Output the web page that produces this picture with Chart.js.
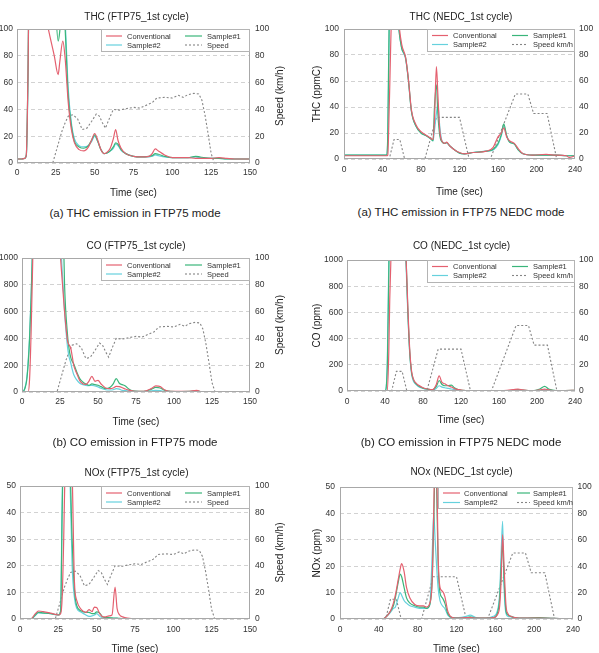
<!DOCTYPE html>
<html><head><meta charset="utf-8">
<script src="https://cdn.jsdelivr.net/npm/chart.js@4"></script>
<style>
html,body{margin:0;padding:0;width:599px;height:653px;overflow:hidden;background:#fff;position:relative;font-family:"Liberation Sans",Arial,sans-serif}
canvas{position:absolute}
.cap{position:absolute;font-size:11.5px;line-height:14px;color:#222;white-space:nowrap;transform:translate(-50%,-50%)}
</style></head><body>
<canvas id="c1"></canvas><canvas id="c2"></canvas><canvas id="c3"></canvas>
<canvas id="c4"></canvas><canvas id="c5"></canvas><canvas id="c6"></canvas>
<div class="cap" style="left:135px;top:212.5px">(a) THC emission in FTP75 mode</div>
<div class="cap" style="left:461px;top:211.5px">(a) THC emission in FTP75 NEDC mode</div>
<div class="cap" style="left:135px;top:441.5px">(b) CO emission in FTP75 mode</div>
<div class="cap" style="left:461px;top:441.5px">(b) CO emission in FTP75 NEDC mode</div>
<script>
// ---------------- DATA ----------------
const seriesLabels = ['Conventional', 'Sample#1', 'Sample#2'];

// FTP75 speed profile (km/h)
const ftpSpeedT = [0, 23, 26, 29, 31, 33, 36, 39, 42, 45, 48, 51, 53, 55, 57, 59, 62, 66, 70, 75, 79, 84, 87, 90, 95, 100, 104, 107, 110, 114, 117, 119, 121, 123, 125, 127, 150];
const ftpSpeed  = [0, 0, 12, 24, 30, 35, 36, 33, 25, 26, 31, 36.5, 35, 30, 26, 32, 40, 39.5, 40.5, 41.5, 41, 43.5, 45, 48.5, 49, 48.5, 50.5, 49, 51, 52, 51.5, 47, 36, 22, 7, 0, 0];

// NEDC speed profile (km/h)
const nedcSpeedT = [0, 47, 52, 58, 63, 84, 96, 120, 130, 152, 178, 191, 197, 211, 221, 240];
const nedcSpeed  = [0, 0, 15, 15, 0, 0, 32, 32, 0, 0, 50, 50, 35, 35, 0, 0];

// THC FTP75
const thcFtpT    = [0, 3, 5, 6, 7, 8, 12, 20, 24, 26.5, 27.5, 29.5, 31, 33, 35, 37, 40, 43, 46, 48, 50, 52, 54, 56, 58, 60, 62, 63.5, 65, 67, 70, 75, 80, 85, 87, 89, 91, 95, 100, 105, 110, 115, 118, 125, 130, 135, 140, 150];
const thcFtpConv = [3, 3, 3.5, 6, 60, 150, 150, 101, 80, 66, 75, 91, 78, 45, 25, 15, 10, 9, 12, 17, 22, 17, 10, 7, 8, 11, 18, 25, 17, 11, 7, 5, 4.5, 5, 7, 10.5, 9, 6, 4, 4, 4, 3.5, 3.5, 3.5, 4, 3.5, 3, 3];
const thcFtpS1   = [3, 3, 3.5, 6, 60, 150, 150, 150, 130, 91, 98, 130, 100, 50, 28, 16, 12, 11, 13, 17, 21, 16, 10, 7, 7.5, 9, 12, 15, 14, 10, 7, 5, 4.5, 5, 5.5, 7, 6.5, 5, 4, 4, 4, 5, 4.5, 3.5, 3.5, 3, 3, 3];
const thcFtpS2   = [3, 3, 3.5, 5.5, 55, 150, 150, 150, 140, 120, 115, 120, 105, 55, 30, 18, 13, 12, 13, 16, 20, 16, 10, 7, 7.5, 9, 11, 14, 13, 9.5, 7, 5, 4.5, 4.5, 5, 6, 5.5, 4.5, 4, 4, 4, 4.5, 4, 3.5, 3.5, 3, 3, 3];

// THC NEDC
const thcNedcT    = [0, 20, 44, 45.5, 47, 50, 55, 57, 60, 64, 67, 70, 75, 80, 85, 90, 92.5, 94, 96, 97.5, 99.5, 102, 105, 106.5, 110, 115, 120, 125, 134, 148, 155, 160, 163.5, 166, 169, 172, 177, 181, 186, 196, 210, 220, 231, 234, 240];
const thcNedcConv = [2.5, 2.5, 2.5, 3, 40, 120, 130, 105, 88, 78, 61, 38, 26, 21, 18.5, 16, 15, 30, 71, 50, 22, 13.5, 12, 13, 10, 7, 5, 4, 5, 6, 9, 17, 20, 24, 17, 14, 12, 8, 4, 3, 3.5, 3, 2.5, 1.2, 2.5];
const thcNedcS1   = [3, 3, 3, 20, 110, 130, 120, 100, 85, 78, 60, 37, 25, 20, 18, 15.5, 14, 40, 57, 35, 18, 13, 12, 12.5, 10, 7, 4.5, 4, 5, 6, 7.5, 12, 19, 27, 18, 13, 11.5, 7, 4, 3, 3, 3, 2.5, 2.5, 2.5];
const thcNedcS2   = [3, 3, 3, 15, 100, 130, 120, 100, 85, 77, 60, 37, 25, 20, 18, 15.5, 14, 22, 35, 42, 25, 13.5, 12, 12.5, 10, 7, 4.5, 4, 5, 6, 7, 11, 18, 25, 18, 13, 11.5, 7, 4, 3, 3, 3, 2.5, 2.5, 2.5];

// CO FTP75
const coFtpT    = [0, 1, 2, 3, 4, 5, 6, 7, 8, 20, 25, 26, 27, 28, 30, 31, 32, 33, 34, 36, 38, 40, 42, 44, 46, 48, 50, 52, 55, 58, 60, 62, 64, 66, 68, 70, 73, 76, 80, 85, 88, 91, 94, 98, 105, 110, 115, 118, 125, 135, 150];
const coFtpConv = [0, 0, 0, 0, 0, 100, 450, 950, 1500, 1500, 1050, 900, 750, 600, 380, 350, 330, 270, 200, 140, 85, 62, 57, 80, 117, 80, 87, 60, 30, 25, 30, 42, 40, 32, 22, 15, 7, 5, 5, 25, 45, 40, 15, 5, 4, 5, 12, 3, 2, 2, 2];
const coFtpS1   = [0, 5, 30, 80, 200, 400, 700, 1100, 1500, 1500, 1500, 1500, 1300, 800, 420, 320, 260, 230, 210, 150, 100, 75, 60, 50, 60, 55, 50, 40, 25, 35, 60, 100, 65, 55, 45, 25, 8, 5, 5, 20, 35, 30, 12, 5, 3, 4, 10, 2, 1, 0, 0];
const coFtpS2   = [0, 8, 35, 90, 220, 420, 720, 1100, 1500, 1500, 1300, 1000, 800, 600, 330, 260, 220, 170, 130, 90, 65, 55, 50, 48, 50, 45, 38, 28, 17, 15, 17, 25, 22, 12, 10, 8, 5, 4, 3, 8, 12, 10, 5, 3, 2, 2, 4, 1, 0, 0, 0];

// CO NEDC
const coNedcT    = [0, 20, 40, 42.5, 44, 45, 46, 48, 55, 60, 62, 64, 66, 68, 70, 72, 75, 80, 85, 90, 94, 97, 100, 103, 107, 110, 113, 117, 122, 130, 140, 160, 175, 180, 185, 195, 203, 208, 213, 220, 230, 240];
const coNedcConv = [0, 0, 0, 0, 300, 700, 950, 1500, 1500, 1300, 1050, 650, 320, 150, 90, 65, 45, 25, 15, 10, 50, 115, 65, 55, 38, 30, 18, 10, 5, 2, 1, 1, 10, 15, 8, 1, 8, 15, 8, 3, 3, 5];
const coNedcS1   = [0, 0, 0, 200, 900, 1300, 1500, 1500, 1500, 1300, 1050, 620, 300, 140, 85, 60, 40, 22, 14, 9, 35, 80, 50, 40, 42, 45, 25, 10, 5, 2, 1, 1, 5, 10, 6, 2, 15, 35, 12, 3, 3, 5];
const coNedcS2   = [0, 0, 0, 250, 1000, 1400, 1500, 1500, 1500, 1300, 1000, 600, 290, 130, 75, 55, 35, 20, 12, 8, 20, 40, 30, 25, 20, 15, 10, 5, 3, 1, 1, 1, 3, 5, 3, 1, 5, 10, 5, 2, 2, 3];

// NOx FTP75
const noxFtpT    = [0, 7, 10, 12, 15, 20, 25, 26.5, 27.5, 28.5, 29.5, 31, 32.5, 34, 35.5, 37, 40, 43, 45, 47, 48.5, 50, 52, 54, 56, 58, 60, 62, 63.3, 65, 67, 70, 75, 80, 100, 150];
const noxFtpConv = [0, 0, 2, 3, 2.8, 2.2, 1.5, 2, 8, 30, 60, 70, 70, 55, 14, 7, 3.5, 2.5, 3.5, 2.8, 4.5, 4.3, 2, 0.8, 0.8, 1.2, 1.5, 12, 4, 1.5, 0.8, 0.3, 0, 0, 0, 0];
const noxFtpS1   = [0, 0, 1.5, 2.5, 2.3, 2, 1.5, 3, 40, 70, 75, 70, 60, 30, 11, 5, 3, 2.5, 2.5, 2, 2, 2.7, 2.2, 0.8, 0.5, 0.5, 0.4, 0.3, 0.3, 0.2, 0.1, 0, 0, 0, 0, 0];
const noxFtpS2   = [0, 0, 1.3, 2.3, 2.2, 2, 1.5, 3, 45, 70, 70, 65, 55, 20, 8, 4, 2.5, 1.5, 1, 1.2, 1.5, 2, 1, 0.3, 0.2, 0.2, 0.2, 0.2, 0.2, 0.1, 0, 0, 0, 0, 0, 0];

// NOx NEDC
const noxNedcT    = [0, 44, 48, 52, 55, 57, 60, 62, 63.5, 66, 68.5, 72, 77, 82, 86, 89, 92.5, 95, 96.5, 98, 99.5, 101, 103, 105.5, 108, 111, 116, 122, 130, 134, 140, 150, 158, 162, 164.5, 166, 167.5, 169, 171, 173, 176, 180, 190, 205, 220, 240];
const noxNedcConv = [0, 0, 1, 3, 6, 9, 15, 19, 21, 18, 12, 8, 5.5, 5, 5, 4.5, 6, 15, 40, 65, 60, 25, 12, 10.5, 8.5, 3, 0.5, 0.3, 0.5, 0.5, 0.3, 0.3, 0.5, 1.5, 5, 15, 32, 20, 5, 2, 1, 0.5, 0.3, 0.3, 0.2, 0];
const noxNedcS1   = [0, 0, 1, 3, 5, 8, 14, 17, 16, 12, 8, 6, 5, 4.5, 4.5, 4, 5.5, 15, 35, 58, 50, 22, 10, 8, 6, 2, 0.5, 0.3, 0.5, 0.8, 0.3, 0.3, 0.5, 2, 8, 20, 28.5, 15, 3, 1.5, 1, 0.5, 0.3, 0.5, 0.2, 0];
const noxNedcS2   = [0, 0, 1, 2.5, 4, 4.5, 8, 10, 9, 7, 6, 5, 4.5, 4, 4, 4, 5.5, 25, 40, 30, 20, 12, 7, 5, 4, 1.5, 0.5, 0.5, 1, 1.5, 0.5, 0.3, 1, 3, 10, 25, 37, 12, 2, 1, 0.8, 0.5, 0.3, 0.3, 0.2, 0];

// ticks
const ftpXTicks = {max: 150, step: 25};
const nedcXTicks = {max: 240, step: 40};
const speedTicks = {max: 100, step: 20};

// ---------------- STYLE / LAYOUT ----------------
const FONT = "'Liberation Sans', Arial, sans-serif";
Chart.defaults.font.family = FONT;
Chart.defaults.color = '#333';
const COLORS = ['#e4606f', '#3ab57a', '#66d1dd'];
const SPEED_COLOR = '#858585';
const plainNum = v => String(v);

const frameLegendPlugin = {
  id: 'frameLegend',
  afterDatasetsDraw(chart) {
    const {ctx, chartArea: a} = chart;
    ctx.save();
    ctx.strokeStyle = '#a8a8a8'; ctx.lineWidth = 1;
    ctx.strokeRect(Math.round(a.left) + 0.5, Math.round(a.top) + 0.5, Math.round(a.right - a.left) - 1, Math.round(a.bottom - a.top) - 1);
    ctx.restore();
  },
  afterDraw(chart, args, opts) {
    const {ctx, chartArea: a} = chart;
    const L = opts.legend;
    const x0 = Math.round(a.right - L.w), y0 = Math.round(a.top);
    ctx.save();
    ctx.fillStyle = 'rgba(255,255,255,0.95)';
    ctx.fillRect(x0, y0, L.w, L.h);
    ctx.strokeStyle = '#b4b4b4'; ctx.lineWidth = 1;
    ctx.strokeRect(x0 + 0.5, y0 + 0.5, L.w - 1, L.h - 1);
    ctx.font = '7.5px ' + FONT;
    ctx.textBaseline = 'middle'; ctx.textAlign = 'left';
    chart.data.datasets.forEach((ds, i) => {
      const c = L.cols[i % 2];
      const ly = y0 + L.row1 + Math.floor(i / 2) * L.rowGap;
      const lx = x0 + c.x;
      ctx.beginPath();
      ctx.setLineDash(ds.borderDash || []);
      ctx.strokeStyle = ds.borderColor; ctx.lineWidth = ds.borderWidth;
      ctx.moveTo(lx, ly); ctx.lineTo(lx + c.len, ly); ctx.stroke();
      ctx.setLineDash([]);
      ctx.fillStyle = '#333';
      ctx.fillText(ds.label, lx + c.len + c.gap, ly + 0.5);
    });
    if (opts.rightTitle) {
      const s = chart.scales.y1;
      ctx.translate(s.right - 7, (a.top + a.bottom) / 2);
      ctx.rotate(-Math.PI / 2);
      ctx.font = '10px ' + FONT;
      ctx.fillStyle = '#222';
      ctx.textAlign = 'center';
      ctx.fillText(opts.rightTitle, 0, 0);
    }
    ctx.restore();
  }
};

function pts(t, v) { return t.map((x, i) => ({x: x, y: v[i]})); }

function panel(id, g, c) {
  const cv = document.getElementById(id);
  cv.width = g.boxR - g.boxL; cv.height = g.bottom - g.top;
  cv.style.left = g.boxL + 'px'; cv.style.top = g.top + 'px';
  const ds = c.values.map((v, i) => ({
    label: seriesLabels[i], data: pts(c.t, v), yAxisID: 'y',
    borderColor: COLORS[i], borderWidth: 1.2, pointRadius: 0,
    cubicInterpolationMode: 'monotone', fill: false
  }));
  ds.push({
    label: c.speedLabel, data: pts(c.speedT, c.speed), yAxisID: 'y1',
    borderColor: SPEED_COLOR, borderWidth: 1.1, borderDash: [2, 2], pointRadius: 0,
    tension: 0, fill: false
  });
  new Chart(cv, {
    type: 'line',
    data: {datasets: ds},
    plugins: [frameLegendPlugin],
    options: {
      responsive: false, animation: false, events: [],
      layout: {padding: 0, autoPadding: false},
      plugins: {
        legend: {display: false}, tooltip: {enabled: false},
        title: {display: true, text: c.title, color: '#222',
          font: {size: 10, weight: 'normal'},
          padding: {top: g.titleY - g.top - 6, bottom: g.plotT - g.titleY - 6}},
        frameLegend: {legend: c.legend, rightTitle: c.rightTitle}
      },
      scales: {
        x: {type: 'linear', min: 0, max: c.x.max,
          ticks: {stepSize: c.x.step, font: {size: 8.5}, color: '#333', padding: c.padX, maxRotation: 0, callback: plainNum},
          grid: {display: false, drawTicks: false},
          border: {display: false},
          title: {display: true, text: 'Time (sec)', font: {size: 10}, color: '#222', padding: 0},
          afterFit: s => { s.height = g.bottom - g.plotB; }
        },
        y: {position: 'left', min: 0, max: c.y.max,
          ticks: {stepSize: c.y.step, font: {size: 8.5}, color: '#333', padding: c.padL, callback: plainNum},
          grid: {color: '#d2d2d2', lineWidth: 1, drawTicks: false},
          border: {display: false, dash: [4, 3]},
          title: {display: !!c.leftTitle, text: c.leftTitle || '', font: {size: 10}, color: '#222', padding: 0},
          afterFit: s => { s.width = g.plotL - g.boxL; }
        },
        y1: {position: 'right', min: 0, max: speedTicks.max,
          ticks: {stepSize: speedTicks.step, font: {size: 8.5}, color: '#333', padding: c.padR, callback: plainNum},
          grid: {display: false, drawTicks: false},
          border: {display: false},
          afterFit: s => { s.width = g.boxR - g.plotR; }
        }
      }
    }
  });
}

const legA = {w: 149, h: 23, row1: 7, rowGap: 9, cols: [{x: 5, len: 16, gap: 5}, {x: 84, len: 17, gap: 5}]};
const legB = {w: 148, h: 23, row1: 6.5, rowGap: 9, cols: [{x: 5, len: 16, gap: 5}, {x: 85, len: 16, gap: 5}]};
const legC = {w: 135, h: 22, row1: 6, rowGap: 9.5, cols: [{x: 5, len: 17, gap: 4}, {x: 79, len: 13, gap: 3}]};

panel('c1', {boxL: -14, boxR: 287, top: 0, bottom: 199, plotL: 17, plotR: 250, plotT: 29, plotB: 163, titleY: 17}, {
  title: 'THC (FTP75_1st cycle)', t: thcFtpT, values: [thcFtpConv, thcFtpS1, thcFtpS2],
  speedT: ftpSpeedT, speed: ftpSpeed, speedLabel: 'Speed', x: ftpXTicks, y: {max: 100, step: 20},
  rightTitle: 'Speed (km/h)', legend: legA, padL: 4, padR: 5, padX: 5
});
panel('c2', {boxL: 311, boxR: 611, top: 0, bottom: 198, plotL: 344, plotR: 575, plotT: 29, plotB: 159, titleY: 17}, {
  title: 'THC (NEDC_1st cycle)', t: thcNedcT, values: [thcNedcConv, thcNedcS1, thcNedcS2],
  speedT: nedcSpeedT, speed: nedcSpeed, speedLabel: 'Speed km/h', x: nedcXTicks, y: {max: 100, step: 20},
  leftTitle: 'THC (ppmC)', legend: legB, padL: 5, padR: 4, padX: 6
});
panel('c3', {boxL: -15, boxR: 287, top: 220, bottom: 428, plotL: 22, plotR: 250, plotT: 258, plotB: 392, titleY: 246}, {
  title: 'CO (FTP75_1st cycle)', t: coFtpT, values: [coFtpConv, coFtpS1, coFtpS2],
  speedT: ftpSpeedT, speed: ftpSpeed, speedLabel: 'Speed', x: ftpXTicks, y: {max: 1000, step: 200},
  rightTitle: 'Speed (km/h)', legend: legA, padL: 4, padR: 5, padX: 5
});
panel('c4', {boxL: 311, boxR: 612, top: 220, bottom: 426, plotL: 347, plotR: 575, plotT: 260, plotB: 391, titleY: 246.5}, {
  title: 'CO (NEDC_1st cycle)', t: coNedcT, values: [coNedcConv, coNedcS1, coNedcS2],
  speedT: nedcSpeedT, speed: nedcSpeed, speedLabel: 'Speed km/h', x: nedcXTicks, y: {max: 1000, step: 200},
  leftTitle: 'CO (ppm)', legend: legB, padL: 4, padR: 4, padX: 5.5
});
panel('c5', {boxL: -14, boxR: 287, top: 440, bottom: 655, plotL: 20, plotR: 250, plotT: 486, plotB: 619, titleY: 473}, {
  title: 'NOx (FTP75_1st cycle)', t: noxFtpT, values: [noxFtpConv, noxFtpS1, noxFtpS2],
  speedT: ftpSpeedT, speed: ftpSpeed, speedLabel: 'Speed', x: ftpXTicks, y: {max: 50, step: 10},
  rightTitle: 'Speed (km/h)', legend: legA, padL: 4, padR: 5, padX: 5.5
});
panel('c6', {boxL: 311, boxR: 612, top: 440, bottom: 655, plotL: 340, plotR: 573, plotT: 487, plotB: 619, titleY: 472.5}, {
  title: 'NOx (NEDC_1st cycle)', t: noxNedcT, values: [noxNedcConv, noxNedcS1, noxNedcS2],
  speedT: nedcSpeedT, speed: nedcSpeed, speedLabel: 'Speed km/h', x: nedcXTicks, y: {max: 50, step: 10},
  leftTitle: 'NOx (ppm)', legend: legC, padL: 5, padR: 4.5, padX: 5.5
});
</script>
</body></html>
